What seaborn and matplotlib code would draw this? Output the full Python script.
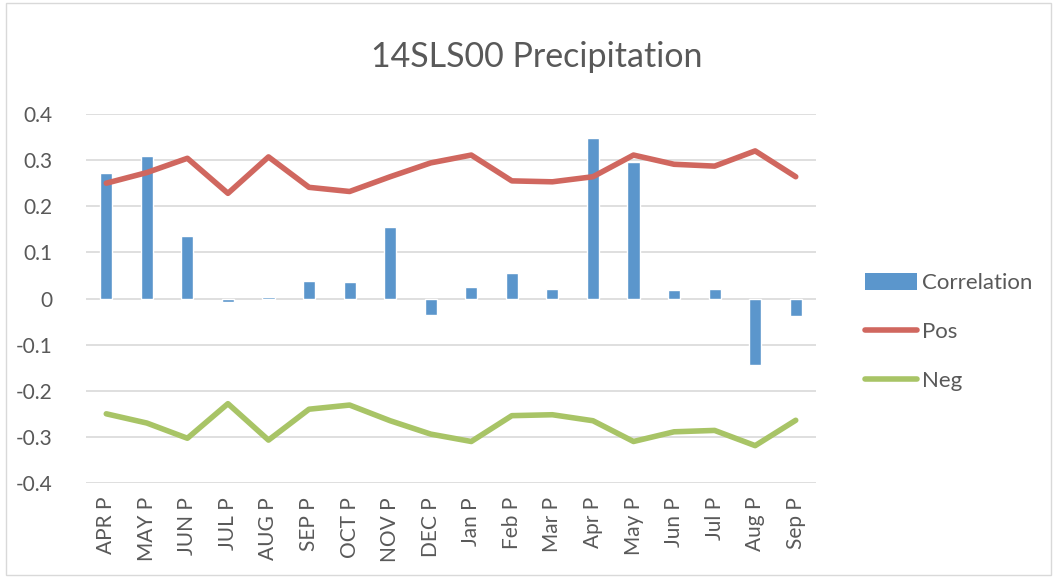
import numpy as np
import pandas as pd
import matplotlib
matplotlib.use("Agg")
import matplotlib.pyplot as plt
from matplotlib.patches import Patch, Rectangle
from matplotlib.lines import Line2D
import seaborn as sns

# Data
months = ["APR P", "MAY P", "JUN P", "JUL P", "AUG P", "SEP P", "OCT P", "NOV P", "DEC P",
          "Jan P", "Feb P", "Mar P", "Apr P", "May P", "Jun P", "Jul P", "Aug P", "Sep P"]
correlation = [0.272, 0.309, 0.136, -0.008, 0.004, 0.039, 0.036, 0.156, -0.035,
               0.025, 0.055, 0.021, 0.348, 0.296, 0.018, 0.021, -0.145, -0.037]
pos = [0.250, 0.273, 0.304, 0.228, 0.307, 0.241, 0.232, 0.264, 0.294,
       0.311, 0.255, 0.253, 0.264, 0.311, 0.291, 0.287, 0.320, 0.264]
neg = [-0.250, -0.270, -0.303, -0.228, -0.307, -0.240, -0.231, -0.265, -0.294,
       -0.310, -0.254, -0.252, -0.265, -0.310, -0.289, -0.286, -0.319, -0.264]

blue, red, green = "#5B96CC", "#D0675F", "#A8C466"
text_col = "#595959"

df = pd.DataFrame({"month": months, "Correlation": correlation, "Pos": pos, "Neg": neg})
df["pos_idx"] = np.arange(len(months))

sns.set_style("white")
plt.rcParams["font.family"] = ["Lato", "DejaVu Sans"]

fig = plt.figure(figsize=(10.57, 5.77), dpi=100)
ax = fig.add_axes([86 / 1057, 1 - 483 / 577, (816 - 86) / 1057, (483 - 114) / 577])

sns.barplot(data=df, x="month", y="Correlation", order=months, color=blue,
            width=0.3, saturation=1, ax=ax, zorder=2)
sns.lineplot(data=df, x="pos_idx", y="Pos", color=red, lw=4, ax=ax, zorder=3)
sns.lineplot(data=df, x="pos_idx", y="Neg", color=green, lw=4, ax=ax, zorder=3)

ax.set_ylim(-0.4, 0.4)
ax.set_xlim(-0.5, len(months) - 0.5)
ax.set_yticks(np.arange(-0.4, 0.41, 0.1))
ax.set_yticklabels(["-0.4", "-0.3", "-0.2", "-0.1", "0", "0.1", "0.2", "0.3", "0.4"],
                   fontsize=15, color=text_col)
ax.set_xticks(np.arange(len(months)))
ax.set_xticklabels(months, rotation=90, fontsize=15, color=text_col)
ax.tick_params(axis="y", length=0, pad=24)
ax.tick_params(axis="x", length=0, pad=10)
ax.grid(axis="y", color="#D9D9D9", lw=1.2, zorder=0)
ax.set_axisbelow(True)
for s in ax.spines.values():
    s.set_visible(False)
ax.set_xlabel("")
ax.set_ylabel("")

fig.text(537 / 1057, 1 - 57 / 577, "14SLS00 Precipitation", ha="center", va="center",
         fontsize=24.5, color=text_col)

handles = [Patch(facecolor=blue, edgecolor="none"),
           Line2D([0], [0], color=red, lw=4, solid_capstyle="round"),
           Line2D([0], [0], color=green, lw=4, solid_capstyle="round")]
fig.legend(handles, ["Correlation", "Pos", "Neg"], loc="center left",
           bbox_to_anchor=(845 / 1057, 1 - 332 / 577), frameon=False, fontsize=16,
           labelcolor=text_col, handlelength=2.35, handleheight=0.8, handletextpad=0.2,
           labelspacing=1.3)

fig.patches.append(Rectangle((6 / 1057, 0.004), 1 - 12 / 1057, 0.99, transform=fig.transFigure,
                             fill=False, edgecolor="#D9D9D9", lw=1))

fig.savefig("out.png", dpi=100)
